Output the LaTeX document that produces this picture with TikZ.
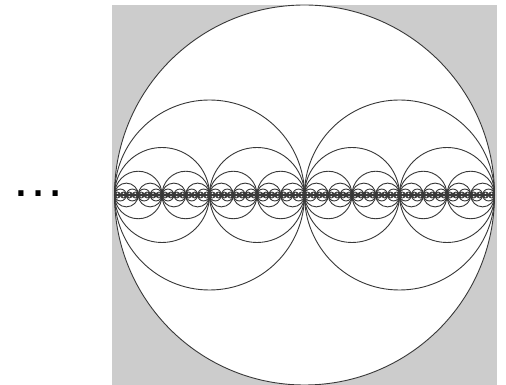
\documentclass[tikz,border=0pt]{standalone}
\usepackage{fontspec}
\setmainfont{Liberation Sans}
\definecolor{bggray}{HTML}{CCCCCC}

\begin{document}
\begin{tikzpicture}[x=1pt, y=1pt, line width=0.9pt]

  \useasboundingbox (0,0) rectangle (506,385);

  % grey square and white disc
  \fill[bggray] (112,0) rectangle (497,380);
  \fill[white] (304.5,190) circle (190pt);

  % nested circles, halving at every level
  \foreach \k in {0,...,8}{
    \pgfmathtruncatemacro\n{2^\k-1}
    \pgfmathsetmacro\r{190/2^\k}
    \foreach \i in {0,...,\n}{
      \draw[black!78] ({114.5+\r*(2*\i+1)},190) circle (\r pt);
    }
  }

  % ellipsis on the left
  \node[font=\fontsize{54}{54}\selectfont, inner sep=0pt] (dots) at (38,191) {\ldots};

\end{tikzpicture}
\end{document}
